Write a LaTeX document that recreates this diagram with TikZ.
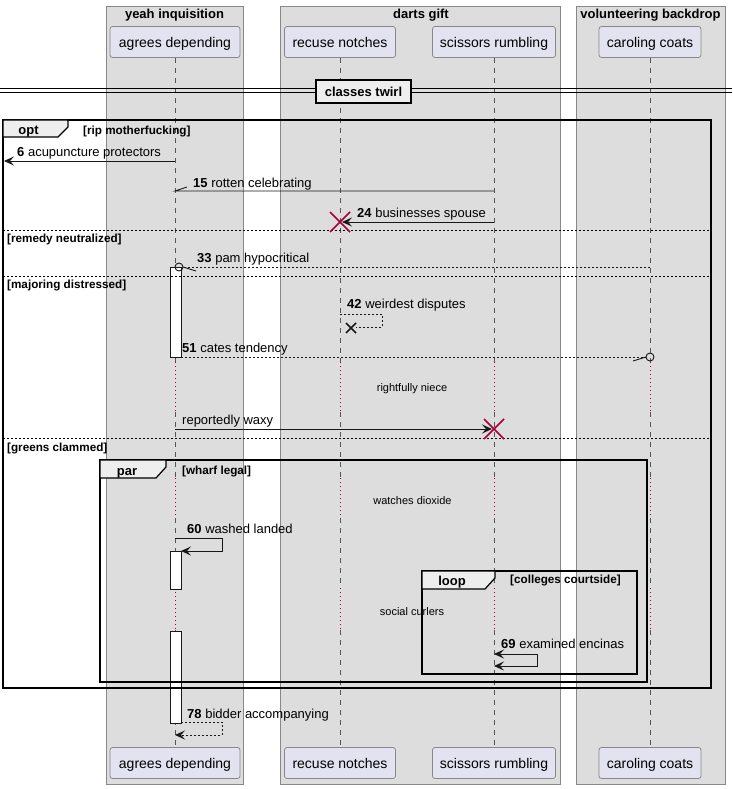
\documentclass[tikz,border=0pt]{standalone}
\usepackage{fontspec}
\setmainfont{Liberation Sans}
\usetikzlibrary{arrows.meta}

\definecolor{grpfill}{HTML}{DDDDDD}
\definecolor{grpline}{HTML}{888888}
\definecolor{ptfill}{HTML}{E2E2F0}
\definecolor{lifegray}{HTML}{555555}
\definecolor{plum}{HTML}{A80036}
\definecolor{ink}{HTML}{181818}
\definecolor{tabfill}{HTML}{EEEEEE}

\tikzset{
  grpbox/.style={draw=grpline, fill=grpfill, line width=0.8pt},
  grptitle/.style={inner sep=0pt, anchor=base, font=\fontsize{13}{15}\selectfont\bfseries},
  ptbox/.style={draw=grpline, fill=ptfill, rounded corners=2.5pt, line width=0.8pt,
    minimum height=31pt, inner sep=0pt, text depth=0pt, font=\fontsize{14}{16}\selectfont},
  life/.style={draw=lifegray, line width=0.6pt, dash pattern=on 5pt off 5pt},
  delayline/.style={draw=plum, line width=0.9pt, dash pattern=on 1pt off 3pt},
  actbar/.style={draw=ink, fill=white, line width=0.8pt},
  msg/.style={draw=ink, line width=0.9pt},
  rmsg/.style={msg, dash pattern=on 2pt off 2pt},
  tip/.style={-{Stealth[length=10pt, width=9pt, inset=4pt]}},
  twotips/.style={{Stealth[length=10pt, width=9pt, inset=4pt]}-{Stealth[length=10pt, width=9pt, inset=4pt]}},
  kill/.style={draw=plum, line width=1.6pt},
  cross/.style={draw=ink, line width=1.5pt},
  frame/.style={draw=black, line width=1.5pt},
  tab/.style={draw=black, fill=tabfill, line width=1.2pt},
  tabtxt/.style={inner sep=0pt, anchor=base, font=\fontsize{13}{15}\selectfont\bfseries},
  guard/.style={inner sep=0pt, anchor=base west, font=\fontsize{11.7}{13}\selectfont\bfseries},
  sepline/.style={draw=black, line width=0.7pt, dash pattern=on 2pt off 2pt},
  lbl/.style={inner sep=0pt, anchor=base west, font=\fontsize{13}{15}\selectfont},
  delaytxt/.style={inner sep=0pt, anchor=base, font=\fontsize{11}{13}\selectfont},
  divbox/.style={draw=black, fill=tabfill, line width=1.5pt, minimum width=95pt,
    minimum height=23pt, inner sep=0pt, font=\fontsize{13}{15}\selectfont\bfseries},
}

\begin{document}
\begin{tikzpicture}[x=1pt, y=-1pt]
\useasboundingbox (0,0) rectangle (732,789);
\fill[white] (0,0) rectangle (732,789);

% participant groups
\draw[grpbox] (106,6) rectangle (243,784);
\draw[grpbox] (280,6) rectangle (560,784);
\draw[grpbox] (576,6) rectangle (725,784);
\node[grptitle] (g1) at (174.5,19) {yeah inquisition};
\node[grptitle] (g2) at (421,19) {darts gift};
\node[grptitle] (g3) at (650.5,19) {volunteering backdrop};

% participants, head and foot
\node[ptbox, minimum width=130pt] (aT) at (175,42) {agrees depending};
\node[ptbox, minimum width=111pt] (rT) at (340,42) {recuse notches};
\node[ptbox, minimum width=123pt] (sT) at (494,42) {scissors rumbling};
\node[ptbox, minimum width=102pt] (cT) at (650,42) {caroling coats};
\node[ptbox, minimum width=130pt] (aB) at (175,763) {agrees depending};
\node[ptbox, minimum width=111pt] (rB) at (340,763) {recuse notches};
\node[ptbox, minimum width=123pt] (sB) at (494,763) {scissors rumbling};
\node[ptbox, minimum width=102pt] (cB) at (650,763) {caroling coats};

% lifelines, with the three delays
\foreach \p in {a,r,s,c}{
  \draw[life] (\p T.south) -- (\p T.south |- 0,362);
  \draw[delayline] (\p T.south |- 0,362) -- (\p T.south |- 0,412);
  \draw[life] (\p T.south |- 0,412) -- (\p T.south |- 0,478);
  \draw[delayline] (\p T.south |- 0,478) -- (\p T.south |- 0,518);
  \draw[life] (\p T.south |- 0,518) -- (\p T.south |- 0,588);
  \draw[delayline] (\p T.south |- 0,588) -- (\p T.south |- 0,630);
  \draw[life] (\p T.south |- 0,630) -- (\p B.north);
}

% activations
\draw[actbar] (170,267) rectangle (181,357);
\draw[actbar] (170,551) rectangle (181,589);
\draw[actbar] (170,631) rectangle (181,723);

% divider
\draw[black, line width=1pt] (0,89) -- (732,89) (0,93) -- (732,93);
\node[divbox] (dv) at (363.5,91.5) {classes twirl};

% opt frame
\draw[frame] (3,120) rectangle (711,688);
\draw[tab] (3,120) -- (68,120) -- (68,127) -- (58,137) -- (3,137) -- cycle;
\node[tabtxt] (optt) at (28.5,135) {opt};
\node[guard] (optg) at (83,134) {[rip motherfucking]};
\draw[sepline] (3,230) -- (711,230);
\node[guard] (sep1) at (7,242) {[remedy neutralized]};
\draw[sepline] (3,276) -- (711,276);
\node[guard] (sep2) at (7,288) {[majoring distressed]};
\draw[sepline] (3,438) -- (711,438);
\node[guard] (sep3) at (7,451) {[greens clammed]};

% par frame
\draw[frame] (100,460) rectangle (647,682);
\draw[tab] (100,460) -- (166,460) -- (166,467) -- (156,478) -- (100,478) -- cycle;
\node[tabtxt] (part) at (127,475) {par};
\node[guard] (parg) at (182,474) {[wharf legal]};

% loop frame
\draw[frame] (422,571) rectangle (637,674);
\draw[tab] (422,571) -- (495,571) -- (495,578) -- (485,589) -- (422,589) -- cycle;
\node[tabtxt] (loopt) at (452,585) {loop};
\node[guard] (loopg) at (510,583) {[colleges courtside]};

% message endpoints
\coordinate (m6a) at (175,161);  \coordinate (m6b) at (4,161);
\coordinate (m15a) at (494,191); \coordinate (m15b) at (175,191); \coordinate (m15c) at (187,187);
\coordinate (m24a) at (494,222); \coordinate (m24b) at (342,222); \coordinate (k24) at (340,222);
\coordinate (m33a) at (650,267); \coordinate (m33o) at (179,267);
\coordinate (m33b) at (183,267); \coordinate (m33c) at (196,271);
\coordinate (m42a) at (340,314); \coordinate (m42b) at (382,314);
\coordinate (m42c) at (382,327); \coordinate (m42d) at (356,327); \coordinate (x42) at (351,328);
\coordinate (m51a) at (181,357); \coordinate (m51b) at (646,357);
\coordinate (m51o) at (650,357); \coordinate (m51c) at (633,361);
\coordinate (mrwa) at (175,429); \coordinate (mrwb) at (492,429); \coordinate (krw) at (494,429);
\coordinate (m60a) at (175,538); \coordinate (m60b) at (222,538);
\coordinate (m60c) at (222,551); \coordinate (m60d) at (181,551);
\coordinate (m69a) at (494,654); \coordinate (m69b) at (537,654);
\coordinate (m69c) at (537,666); \coordinate (m69d) at (494,666);
\coordinate (m78a) at (181,722); \coordinate (m78b) at (222,722);
\coordinate (m78c) at (222,735); \coordinate (m78d) at (175,735);

% messages
\draw[msg, tip] (m6a) -- (m6b);
\node[lbl] (l6) at (17,156) {\textbf{6} acupuncture protectors};

\draw[msg] (m15a) -- (m15b) -- (m15c);
\node[lbl] (l15) at (193,187) {\textbf{15} rotten celebrating};

\draw[msg, tip] (m24a) -- (m24b);
\draw[kill] (k24) ++(-10,-10) -- ++(20,20) ++(0,-20) -- ++(-20,20);
\node[lbl] (l24) at (357,217) {\textbf{24} businesses spouse};

\draw[rmsg] (m33a) -- (m33b);
\draw[msg] (m33o) circle (4pt);
\draw[msg] (m33b) -- (m33c);
\node[lbl] (l33) at (197,262) {\textbf{33} pam hypocritical};

\draw[rmsg] (m42a) -- (m42b) -- (m42c) -- (m42d);
\draw[cross] (x42) ++(-5,-5) -- ++(10,10) ++(0,-10) -- ++(-10,10);
\node[lbl] (l42) at (347,308) {\textbf{42} weirdest disputes};

\draw[rmsg] (m51a) -- (m51b);
\draw[msg] (m51o) circle (4pt);
\draw[msg] (m51b) -- (m51c);
\node[lbl] (l51) at (182,352) {\textbf{51} cates tendency};

\node[delaytxt] (d1) at (412,391) {rightfully niece};

\draw[msg, tip] (mrwa) -- (mrwb);
\draw[kill] (krw) ++(-10,-10) -- ++(20,20) ++(0,-20) -- ++(-20,20);
\node[lbl] (lrw) at (182,424) {reportedly waxy};

\node[delaytxt] (d2) at (412.5,504) {watches dioxide};

\draw[msg, tip] (m60a) -- (m60b) -- (m60c) -- (m60d);
\node[lbl] (l60) at (187,533) {\textbf{60} washed landed};

\node[delaytxt] (d3) at (412,615) {social curlers};

\draw[msg, twotips] (m69a) -- (m69b) -- (m69c) -- (m69d);
\node[lbl] (l69) at (501,648) {\textbf{69} examined encinas};

\draw[rmsg, tip] (m78a) -- (m78b) -- (m78c) -- (m78d);
\node[lbl] (l78) at (187,718) {\textbf{78} bidder accompanying};
\end{tikzpicture}
\end{document}
